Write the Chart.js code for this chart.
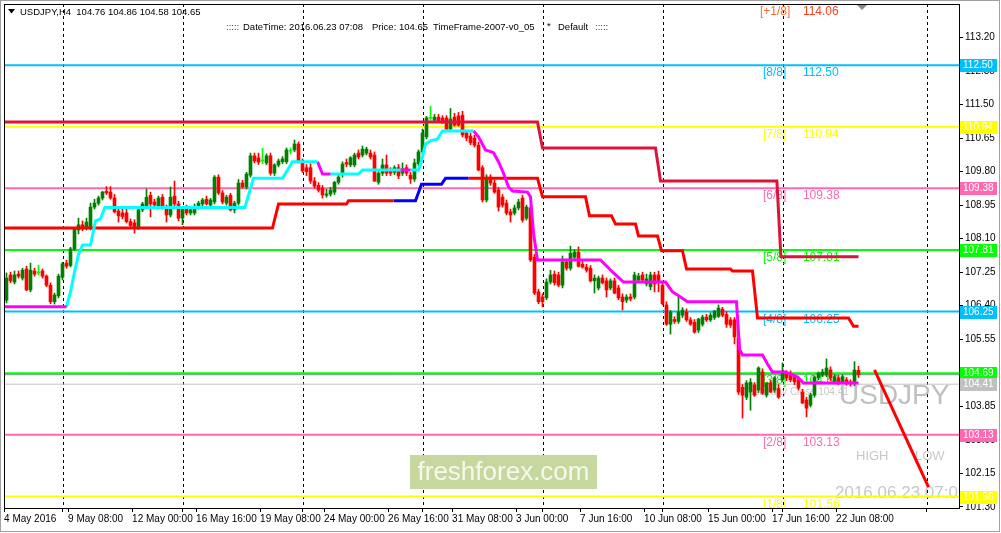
<!DOCTYPE html>
<html>
<head>
<meta charset="utf-8">
<script src="https://cdn.jsdelivr.net/npm/chart.js@4.4.1/dist/chart.umd.min.js"></script>
<style>
  html, body { margin: 0; padding: 0; background: #fff; }
  #c { display: block; }
</style>
</head>
<body>
<canvas id="c" width="1001" height="533"></canvas>
<script>
// USDJPY H4 candles, bar 0 = 4 May 2016 ... bar 213 = 23 Jun 04:00  [open, high, low, close]
const candlesOHLC = [
  [106.54,107.23,106.47,107.10],[107.18,107.25,106.98,107.03],[107.00,107.28,106.95,107.18],[107.20,107.28,107.10,107.15],
  [107.10,107.35,107.05,107.30],[107.33,107.40,106.78,106.80],[106.80,107.48,106.75,107.30],[107.28,107.35,107.15,107.20],
  [107.23,107.43,107.18,107.23],[107.28,107.33,107.10,107.15],[107.15,107.18,106.88,106.92],[106.92,106.98,106.45,106.50],
  [106.50,106.72,106.44,106.67],[106.65,107.20,106.60,107.15],[107.12,107.50,107.05,107.46],[107.48,107.55,107.35,107.40],
  [107.42,107.88,107.38,107.84],[107.84,108.38,107.80,108.34],[108.32,108.62,108.22,108.45],[108.45,108.55,108.30,108.37],
  [108.37,108.62,108.32,108.52],[108.37,109.00,108.32,108.90],[108.90,109.10,108.85,109.00],[109.00,109.18,108.95,109.13],
  [109.13,109.30,109.08,109.28],[109.30,109.42,109.22,109.26],[109.28,109.42,109.10,109.13],[109.13,109.22,108.75,108.78],
  [108.80,108.88,108.52,108.68],[108.75,108.85,108.60,108.66],[108.75,108.85,108.50,108.53],[108.53,108.60,108.40,108.43],
  [108.50,108.58,108.24,108.40],[108.37,108.88,108.33,108.83],[108.83,109.02,108.78,108.98],[108.93,109.36,108.88,109.15],
  [109.20,109.28,108.65,108.98],[109.03,109.10,108.90,108.95],[108.90,109.18,108.85,109.13],[109.15,109.22,108.85,108.88],
  [108.88,108.95,108.52,108.70],[108.70,109.41,108.65,109.15],[109.18,109.56,108.90,108.98],[108.98,109.05,108.55,108.62],
  [108.62,108.90,108.45,108.88],[108.88,108.95,108.70,108.75],[108.75,108.90,108.70,108.83],[108.75,108.98,108.70,108.90],
  [108.90,109.05,108.85,109.00],[108.98,109.12,108.92,109.08],[109.10,109.18,108.95,108.98],[108.95,109.12,108.90,109.08],
  [109.03,109.70,108.98,109.66],[109.66,109.72,109.22,109.26],[109.26,109.32,108.98,109.03],[109.00,109.20,108.95,109.15],
  [109.20,109.25,108.80,108.83],[108.83,109.05,108.75,109.00],[109.00,109.60,108.95,109.51],[109.51,109.58,109.38,109.41],
  [109.41,109.78,109.36,109.74],[109.71,110.27,109.66,110.20],[110.20,110.27,110.02,110.07],[110.15,110.27,109.98,110.04],
  [110.07,110.39,110.00,110.07],[110.02,110.25,109.97,110.20],[110.20,110.27,109.71,109.76],[109.76,110.00,109.70,109.97],
  [109.97,110.12,109.92,110.07],[110.05,110.18,110.00,110.12],[110.05,110.40,110.00,110.35],[110.32,110.40,110.25,110.32],
  [110.35,110.60,110.30,110.50],[110.50,110.55,110.02,110.05],[110.05,110.12,109.78,109.82],[109.90,109.98,109.70,109.80],
  [109.90,110.00,109.50,109.56],[109.56,109.65,109.38,109.43],[109.45,109.52,109.28,109.33],[109.38,109.45,109.13,109.21],
  [109.20,109.35,109.15,109.23],[109.23,109.40,109.18,109.33],[109.28,109.55,109.22,109.53],[109.53,109.72,109.48,109.66],
  [109.72,110.05,109.66,109.99],[110.03,110.12,109.92,109.99],[109.97,110.18,109.92,110.15],[109.97,110.27,109.92,110.22],
  [110.27,110.35,110.12,110.17],[110.22,110.45,110.17,110.37],[110.27,110.42,110.22,110.37],[110.27,110.35,110.12,110.17],
  [110.22,110.30,109.55,109.56],[109.53,109.80,109.48,109.76],[109.76,110.12,109.70,109.97],[109.97,110.22,109.70,109.76],
  [109.82,109.90,109.70,109.76],[109.78,109.95,109.72,109.90],[109.90,109.98,109.62,109.69],[109.76,110.02,109.70,109.87],
  [109.90,109.97,109.70,109.76],[109.71,109.78,109.50,109.61],[109.61,110.12,109.55,110.02],[110.00,110.35,109.95,110.30],
  [110.30,110.88,110.25,110.78],[110.68,111.20,110.63,111.16],[111.15,111.46,111.10,111.15],[111.10,111.25,111.05,111.18],
  [111.18,111.25,111.05,111.08],[111.16,111.22,111.02,111.08],[111.16,111.22,110.85,110.88],[110.88,111.40,110.82,111.13],
  [111.18,111.28,110.95,110.98],[111.21,111.30,110.95,110.98],[111.23,111.33,110.68,110.73],[110.78,110.85,110.58,110.65],
  [110.70,110.78,110.48,110.53],[110.65,110.72,110.42,110.47],[110.47,110.55,109.82,109.84],[109.90,109.95,109.03,109.08],
  [109.08,109.72,109.03,109.66],[109.66,109.72,109.45,109.51],[109.51,109.58,109.25,109.28],[109.33,109.40,108.80,108.90],
  [109.15,109.22,108.90,108.95],[109.00,109.08,108.70,108.75],[108.78,108.85,108.52,108.70],[108.75,108.95,108.70,108.88],
  [108.88,109.10,108.83,109.03],[109.13,109.20,108.52,108.57],[108.62,108.95,108.57,108.90],[108.88,108.95,107.52,107.56],
  [107.63,107.70,106.68,106.72],[106.75,106.82,106.45,106.50],[106.62,106.70,106.37,106.50],[106.60,107.08,106.55,107.00],
  [107.00,107.30,106.95,107.18],[107.20,107.28,106.92,106.98],[107.18,107.25,106.88,106.92],[106.92,107.66,106.85,107.51],
  [107.51,107.58,107.30,107.35],[107.35,107.91,107.30,107.73],[107.63,107.82,107.58,107.76],[107.76,107.89,107.38,107.40],
  [107.45,107.52,107.35,107.38],[107.38,107.45,107.25,107.30],[107.35,107.42,107.00,107.03],[107.03,107.18,106.72,107.10],
  [106.85,107.15,106.80,107.10],[107.10,107.18,106.95,106.98],[107.03,107.10,106.62,106.80],[106.85,107.08,106.80,107.03],
  [107.03,107.10,106.70,106.72],[106.85,106.92,106.55,106.60],[106.62,106.70,106.29,106.50],[106.54,106.68,106.48,106.62],
  [106.62,106.70,106.52,106.57],[106.62,107.25,106.57,107.18],[107.05,107.22,107.00,107.15],[107.18,107.25,107.00,107.05],
  [106.95,107.20,106.90,107.08],[106.88,107.25,106.80,107.18],[107.18,107.25,106.75,106.95],[107.18,107.28,106.75,107.00],
  [106.92,107.00,106.42,106.45],[106.42,106.50,105.90,105.93],[105.93,106.28,105.68,106.24],[106.05,106.12,105.95,106.00],
  [106.00,106.62,105.95,106.24],[106.16,106.35,106.10,106.29],[106.24,106.32,106.00,106.04],[106.04,106.10,105.90,105.93],
  [105.98,106.05,105.70,105.73],[105.78,106.08,105.72,106.06],[105.93,106.16,105.88,106.11],[106.11,106.18,106.00,106.04],
  [106.04,106.22,106.00,106.16],[106.10,106.28,106.05,106.26],[106.13,106.42,106.10,106.34],[106.31,106.36,106.12,106.16],
  [106.18,106.25,105.85,105.93],[106.04,106.10,105.85,105.91],[106.04,106.10,105.43,105.61],[105.58,105.65,104.15,104.21],
  [104.33,104.40,103.55,104.13],[104.08,104.50,104.02,104.44],[104.21,104.55,103.75,104.46],[104.39,104.45,104.10,104.13],
  [104.26,104.85,104.20,104.82],[104.72,104.80,104.15,104.18],[104.13,104.45,104.08,104.44],[104.44,104.50,104.20,104.21],
  [104.26,104.60,104.20,104.57],[104.30,104.40,104.05,104.08],[104.52,104.95,104.47,104.69],[104.69,104.75,104.50,104.57],
  [104.69,104.75,104.47,104.52],[104.60,104.66,104.40,104.47],[104.52,104.60,104.26,104.31],[104.21,104.28,103.92,103.93],
  [104.01,104.08,103.58,103.80],[103.88,104.18,103.83,104.13],[104.13,104.62,104.08,104.59],[104.57,104.72,104.52,104.69],
  [104.64,104.79,104.60,104.72],[104.64,105.05,104.60,104.82],[104.77,104.85,104.50,104.57],[104.47,104.65,104.42,104.60],
  [104.57,104.63,104.40,104.47],[104.47,104.65,104.42,104.60],[104.52,104.58,104.38,104.44],[104.47,104.52,104.36,104.42],
  [104.42,104.98,104.37,104.77],[104.76,104.86,104.58,104.65]
];

// Murrey math levels
const levelPrices = [112.50, 110.94, 109.38, 107.81, 106.25, 104.69, 103.13, 101.56];
const levelNames  = ['[8/8]', '[7/8]', '[6/8]', '[5/8]', '[4/8]', '[3/8]', '[2/8]', '[1/8]'];
const levelColors = ['#00bfff', '#ffff00', '#ff69b4', '#00ff00', '#00bfff', '#00ff00', '#ff69b4', '#ffff00'];
const topLevelPrice = 114.06;
const yesterdayClose = 104.41;
const bidPrice = 104.65;

// indicator lines, vertices as [bar index], [price]
const crimsonX = [-0.6, 132.75, 134, 162.25, 163.5, 192.6, 193.6, 213];
const crimsonY = [111.06, 111.06, 110.40, 110.40, 109.56, 109.56, 107.64, 107.64];

const redX1 = [-0.6, 66.5, 68, 85, 85.5, 96.75];
const redY1 = [108.37, 108.37, 108.98, 108.98, 109.06, 109.06];
const blueX = [96.75, 102.25, 103.75, 108.75, 109.75, 115.5];
const blueY = [109.06, 109.06, 109.48, 109.48, 109.63, 109.63];
const redX2 = [115.5, 132.75, 134, 144.75, 145.75, 151.25, 152.25, 157.25, 158, 162.75, 163.75, 169, 170, 181, 181.5, 186.5, 187.75, 210.5, 211.75, 213];
const redY2 = [109.63, 109.63, 109.16, 109.16, 108.68, 108.68, 108.47, 108.47, 108.17, 108.17, 107.79, 107.79, 107.33, 107.33, 107.28, 107.28, 106.09, 106.09, 105.88, 105.88];

const magentaX1 = [-0.6, 15];
const magentaY1 = [106.37, 106.37];
const cyanX1 = [15, 16, 17, 18, 19, 21, 22.25, 23.5, 24.6, 59.6, 61.75, 69, 71.5, 77.75];
const cyanY1 = [106.37, 106.75, 107.25, 107.70, 107.94, 107.94, 108.55, 108.60, 108.89, 108.89, 109.63, 109.63, 110.05, 110.05];
const magentaX2 = [77.75, 79, 81];
const magentaY2 = [110.05, 109.74, 109.74];
const cyanX2 = [81, 88, 89, 98.5];
const cyanY2 = [109.74, 109.74, 109.84, 109.84];
const magentaX3 = [98.5, 101];
const magentaY3 = [109.84, 109.84];
const cyanX3 = [101, 103, 104, 104.75, 106, 107.75, 109, 116.75];
const cyanY3 = [109.84, 109.84, 110.17, 110.50, 110.58, 110.63, 110.83, 110.83];
const magentaX4 = [116.75, 118, 119.75, 121.75, 123, 124.25, 125.5, 126.5, 130.25, 131, 131.75, 132.75, 148.5, 149.75, 151.75, 154.25,
                   164.75, 166.5, 167.75, 170.25, 182.5, 183.25, 184, 189, 190.25, 191.5, 194.75, 197.75, 199.25, 213];
const magentaY4 = [110.83, 110.68, 110.35, 110.28, 110.05, 109.76, 109.41, 109.31, 109.28, 109.16, 108.24, 107.56, 107.56, 107.43, 107.23, 107.00,
                   107.00, 106.75, 106.67, 106.50, 106.50, 105.30, 105.15, 105.15, 104.92, 104.72, 104.72, 104.59, 104.44, 104.44];

// projection line
const projX = [217, 230.5];
const projY = [104.77, 101.80];

// axes
const weekSeparators = [14, 44, 74, 104, 134, 164, 194, 230];
const timeTickBars = [0, 16, 32, 48, 64, 80, 96, 112, 128, 144, 160, 176, 192, 208];
const timeLabels = ['4 May 2016', '9 May 08:00', '12 May 00:00', '16 May 16:00', '19 May 08:00', '24 May 00:00', '26 May 16:00',
                    '31 May 08:00', '3 Jun 00:00', '7 Jun 16:00', '10 Jun 08:00', '15 Jun 00:00', '17 Jun 16:00', '22 Jun 08:00'];
const priceTicks = [101.30, 102.15, 103.00, 103.85, 104.70, 105.55, 106.40, 107.25, 108.10, 108.95, 109.80, 110.65, 111.50, 112.35, 113.20];

const X_MIN = -0.625, X_MAX = 238.125;

const candleColor = c => c[3] > c[0] ? '#008000' : (c[3] < c[0] ? '#ff0000' : '#00ff00');

function lineSet(xs, ys, color, width, order) {
  return {
    type: 'line',
    data: xs.map((x, i) => ({ x: x, y: ys[i] })),
    borderColor: color,
    borderWidth: width,
    pointRadius: 0,
    tension: 0,
    fill: false,
    order: order,
    borderJoinStyle: 'miter'
  };
}

const datasets = [];
levelPrices.forEach((p, i) => datasets.push(lineSet([X_MIN, X_MAX], [p, p], levelColors[i], 2, 10)));
datasets.push(lineSet([X_MIN, X_MAX], [yesterdayClose, yesterdayClose], '#c0c0c0', 1, 10));
datasets.push(lineSet([X_MIN, X_MAX], [bidPrice, bidPrice], '#778899', 1, 10));

datasets.push({
  type: 'bar',
  data: candlesOHLC.map((c, i) => ({ x: i, y: [c[2], c[1]] })),
  backgroundColor: candlesOHLC.map(candleColor),
  barThickness: 1,
  grouped: false,
  borderWidth: 0,
  order: 6
});
datasets.push({
  type: 'bar',
  data: candlesOHLC.map((c, i) => ({ x: i, y: [c[0], c[3]] })),
  backgroundColor: candlesOHLC.map(candleColor),
  barThickness: 3,
  minBarLength: 1,
  grouped: false,
  borderWidth: 0,
  order: 5
});

datasets.push(lineSet(crimsonX, crimsonY, '#dc143c', 3, 2));
datasets.push(lineSet(redX1, redY1, '#ff0000', 3, 2));
datasets.push(lineSet(blueX, blueY, '#0000ff', 3, 2));
datasets.push(lineSet(redX2, redY2, '#ff0000', 3, 2));
datasets.push(lineSet(magentaX1, magentaY1, '#ff00ff', 3, 1));
datasets.push(lineSet(cyanX1, cyanY1, '#00ffff', 3, 1));
datasets.push(lineSet(magentaX2, magentaY2, '#ff00ff', 3, 1));
datasets.push(lineSet(cyanX2, cyanY2, '#00ffff', 3, 1));
datasets.push(lineSet(magentaX3, magentaY3, '#ff00ff', 3, 1));
datasets.push(lineSet(cyanX3, cyanY3, '#00ffff', 3, 1));
datasets.push(lineSet(magentaX4, magentaY4, '#ff00ff', 3, 1));
datasets.push(lineSet(projX, projY, '#ff0000', 3, 0));

const FONT = '"Liberation Sans", Arial, sans-serif';

const mtDecor = {
  id: 'mtDecor',
  beforeDraw(chart) {
    const ctx = chart.ctx;
    ctx.save();
    ctx.fillStyle = '#ffffff';
    ctx.fillRect(0, 0, chart.width, chart.height);
    ctx.restore();
  },
  beforeDatasetsDraw(chart) {
    const { ctx, chartArea: ca, scales } = chart;
    const xs = scales.x, ys = scales.y;
    ctx.save();
    ctx.beginPath();
    ctx.rect(ca.left, ca.top, ca.width, ca.height);
    ctx.clip();

    // week separators
    ctx.strokeStyle = '#000';
    ctx.lineWidth = 1;
    ctx.setLineDash([3, 3]);
    weekSeparators.forEach(b => {
      const px = Math.round(xs.getPixelForValue(b)) + 0.5;
      ctx.beginPath();
      ctx.moveTo(px, ca.top);
      ctx.lineTo(px, ca.bottom);
      ctx.stroke();
    });
    ctx.setLineDash([]);

    // murrey labels
    ctx.textBaseline = 'middle';
    ctx.font = '12px ' + FONT;
    const lx = xs.getPixelForValue(189.1), vx = xs.getPixelForValue(199.1);
    levelPrices.forEach((p, i) => {
      const py = ys.getPixelForValue(p) + 8;
      ctx.fillStyle = levelColors[i];
      ctx.fillText(levelNames[i], lx, py);
      ctx.fillText(p.toFixed(2), vx, py);
    });
    const ty = ys.getPixelForValue(topLevelPrice) + 8;
    ctx.fillStyle = '#ff6a30';
    ctx.fillText('[+1/8]', lx - 3, ty);
    ctx.fillStyle = '#ff4020';
    ctx.fillText(topLevelPrice.toFixed(2), vx, ty);

    // faint texts
    ctx.fillStyle = '#c8c8c8';
    ctx.font = '10px ' + FONT;
    ctx.fillText('Yesterday Close ' + yesterdayClose.toFixed(2), 743, ys.getPixelForValue(yesterdayClose) + 8);
    ctx.fillStyle = '#c0c0c0';
    ctx.font = '28px ' + FONT;
    ctx.fillText('USDJPY', 839, 396);
    ctx.fillStyle = '#c8c8c8';
    ctx.font = '13px ' + FONT;
    ctx.fillText('HIGH', 856, 456);
    ctx.fillText('LOW', 915, 456);
    ctx.font = '17px ' + FONT;
    ctx.fillText('2016.06.23 07:09', 835, 493);
    ctx.restore();
  },
  afterDatasetsDraw(chart) {
    const ctx = chart.ctx;
    ctx.save();
    // watermark
    ctx.fillStyle = '#c6d89d';
    ctx.fillRect(410, 455, 187, 34);
    ctx.fillStyle = '#f6f9ef';
    ctx.font = '26px ' + FONT;
    ctx.textAlign = 'center';
    ctx.textBaseline = 'middle';
    ctx.fillText('freshforex.com', 503.5, 473);
    ctx.restore();
  },
  afterDraw(chart) {
    const { ctx, chartArea: ca, scales } = chart;
    const ys = scales.y;
    ctx.save();
    // chart frame
    ctx.strokeStyle = '#000';
    ctx.lineWidth = 1;
    ctx.strokeRect(ca.left + 0.5, ca.top + 0.5, ca.width, ca.height);

    // price boxes on the axis
    ctx.font = '10px ' + FONT;
    ctx.textBaseline = 'middle';
    const boxes = levelPrices.map((p, i) => [p, levelColors[i]]);
    boxes.push([yesterdayClose, '#c0c0c0']);
    boxes.forEach(([p, col]) => {
      const py = Math.round(ys.getPixelForValue(p));
      ctx.fillStyle = col;
      ctx.fillRect(ca.right + 1, py - 6, 37, 13);
      ctx.fillStyle = '#ffffff';
      ctx.fillText(p.toFixed(2), ca.right + 4, py + 0.5);
    });

    // header
    ctx.fillStyle = '#000';
    ctx.beginPath();
    ctx.moveTo(8, 9); ctx.lineTo(15, 9); ctx.lineTo(11.5, 13.5); ctx.closePath(); ctx.fill();
    ctx.font = '9.5px ' + FONT;
    ctx.fillText('USDJPY,H4  104.76 104.86 104.58 104.65', 20, 12.5);
    ctx.fillStyle = '#800080';
    ctx.fillText(':::::', 226, 27);
    ctx.fillText(':::::', 595, 27);
    ctx.fillStyle = '#000';
    ctx.fillText('DateTime: 2016.06.23 07:08', 243, 27);
    ctx.fillText('Price: 104.65', 372, 27);
    ctx.fillText('TimeFrame-2007-v0_05', 433, 27);
    ctx.fillText('*', 547, 26);
    ctx.fillText('Default', 558, 27);

    // chart shift marker
    ctx.fillStyle = '#8a8a8a';
    ctx.beginPath();
    ctx.moveTo(857, 5); ctx.lineTo(867, 5); ctx.lineTo(862, 10); ctx.closePath(); ctx.fill();

    // window border
    ctx.strokeStyle = '#a0a0a0';
    ctx.strokeRect(0.5, 0.5, chart.width - 2, chart.height - 2);
    ctx.restore();
  }
};

new Chart(document.getElementById('c'), {
  type: 'bar',
  data: { datasets: datasets },
  plugins: [mtDecor],
  options: {
    responsive: false,
    animation: false,
    devicePixelRatio: 1,
    layout: { padding: { left: 4, top: 4, right: 0, bottom: 0 } },
    plugins: { legend: { display: false }, tooltip: { enabled: false } },
    scales: {
      x: {
        type: 'linear',
        min: X_MIN,
        max: X_MAX,
        offset: false,
        afterFit: s => { s.height = 25; s.paddingLeft = 0; s.paddingRight = 0; },
        afterBuildTicks: s => {
          const t = timeTickBars.map(b => ({ value: b - 0.6 }))
            .concat(weekSeparators.map(b => ({ value: b })));
          t.sort((a, b) => a.value - b.value);
          s.ticks = t;
        },
        grid: { offset: false, drawOnChartArea: false, drawTicks: true, tickLength: 4, color: '#000' },
        border: { display: false },
        ticks: {
          align: 'start',
          padding: 1,
          autoSkip: false,
          maxRotation: 0,
          color: '#000',
          font: { family: FONT, size: 10 },
          callback: v => {
            const k = timeTickBars.findIndex(b => Math.abs(b - 0.6 - v) < 0.01);
            return k >= 0 ? timeLabels[k] : '';
          }
        }
      },
      y: {
        type: 'linear',
        position: 'right',
        min: 101.27,
        max: 114.05,
        afterFit: s => { s.width = 42; s.paddingTop = 0; s.paddingBottom = 0; },
        afterBuildTicks: s => { s.ticks = priceTicks.map(v => ({ value: v })); },
        grid: { drawOnChartArea: false, drawTicks: true, tickLength: 4, color: '#000' },
        border: { display: false },
        ticks: {
          padding: 2,
          color: '#000',
          font: { family: FONT, size: 10 },
          callback: v => v.toFixed(2)
        }
      }
    }
  }
});
</script>
</body>
</html>
